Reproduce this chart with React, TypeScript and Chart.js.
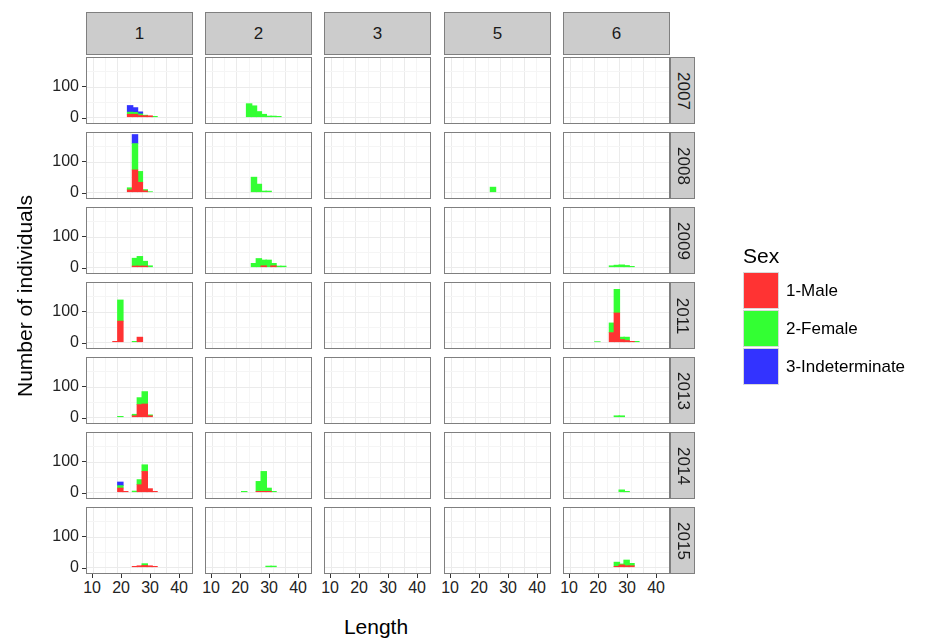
import { useEffect, useRef } from 'react'
import { Chart, registerables } from 'chart.js'

Chart.register(...registerables)

// facet labels
const sites = ['1', '2', '3', '5', '6']
const years = ['2007', '2008', '2009', '2011', '2013', '2014', '2015']

// histogram bin centres (width 2)
const lengthBins = [16.5, 18.5, 20.5, 22.5, 24.5, 26.5, 28.5, 30.5, 32.5, 34.5, 36.5]

// counts per bin, keyed "site-year"
const maleCounts: Record<string, number[]> = {
  '1-2007': [0, 0, 0, 10, 10, 6, 5, 5, 0, 0, 0],
  '1-2008': [0, 0, 0, 8, 74, 33, 5, 0, 0, 0, 0],
  '1-2009': [0, 0, 0, 0, 4, 4, 4, 0, 0, 0, 0],
  '2-2009': [0, 0, 0, 0, 0, 0, 5, 0, 5, 0, 0],
  '1-2011': [3, 70, 0, 0, 0, 17, 0, 0, 0, 0, 0],
  '6-2011': [0, 0, 0, 0, 32, 97, 9, 6, 3, 0, 0],
  '1-2013': [0, 0, 0, 0, 5, 42, 44, 5, 0, 0, 0],
  '1-2014': [0, 14, 3, 0, 0, 25, 69, 12, 3, 0, 0],
  '2-2014': [0, 0, 0, 0, 0, 3, 3, 3, 0, 0, 0],
  '1-2015': [0, 0, 0, 0, 3, 5, 6, 5, 3, 0, 0],
  '6-2015': [0, 0, 0, 0, 0, 3, 8, 5, 5, 0, 0],
}
const femaleCounts: Record<string, number[]> = {
  '1-2007': [0, 0, 0, 7, 6, 5, 2, 0, 3, 0, 0],
  '2-2007': [0, 0, 0, 45, 38, 19, 10, 4, 4, 3, 0],
  '1-2008': [0, 0, 0, 7, 87, 36, 4, 2, 0, 0, 0],
  '2-2008': [0, 0, 0, 0, 50, 27, 4, 4, 0, 0, 0],
  '5-2008': [0, 0, 0, 0, 17, 0, 0, 0, 0, 0, 0],
  '1-2009': [0, 0, 0, 0, 26, 32, 16, 5, 0, 0, 0],
  '2-2009': [0, 0, 0, 0, 13, 29, 19, 24, 8, 4, 4],
  '6-2009': [0, 0, 0, 0, 5, 7, 8, 6, 3, 0, 0],
  '1-2011': [0, 70, 0, 0, 3, 0, 0, 0, 0, 0, 0],
  '6-2011': [0, 2, 0, 0, 32, 78, 8, 11, 0, 3, 0],
  '1-2013': [0, 3, 0, 0, 5, 23, 41, 3, 0, 0, 0],
  '6-2013': [0, 0, 0, 0, 0, 5, 5, 0, 0, 0, 0],
  '1-2014': [0, 8, 0, 0, 4, 17, 22, 0, 0, 0, 0],
  '2-2014': [0, 0, 3, 0, 0, 33, 66, 11, 3, 0, 0],
  '6-2014': [0, 0, 0, 0, 0, 0, 8, 3, 0, 0, 0],
  '1-2015': [0, 0, 0, 0, 0, 0, 6, 0, 0, 0, 0],
  '2-2015': [0, 0, 0, 0, 0, 0, 0, 4, 4, 0, 0],
  '6-2015': [0, 0, 0, 0, 0, 14, 3, 19, 8, 0, 0],
}
const indetCounts: Record<string, number[]> = {
  '1-2007': [0, 0, 0, 22, 16, 7, 0, 0, 0, 0, 0],
  '1-2008': [0, 0, 0, 0, 30, 0, 0, 0, 0, 0, 0],
  '1-2014': [0, 12, 0, 0, 0, 0, 0, 0, 0, 0, 0],
}

const xTicks = [10, 20, 30, 40]
const yTicks = [0, 100]
const sexLabels = ['1-Male', '2-Female', '3-Indeterminate']
const sexColors = ['#ff3333', '#33ff33', '#3333ff']

const X_MIN = 7.9
const X_MAX = 44.8
const Y_MIN = -19
const Y_MAX = 196
const PW = 107
const PH = 67
const colX = [86, 205, 324, 444, 563]
const rowY = (i: number) => 57 + i * 75
const font = 'Arial, "Liberation Sans", sans-serif'

function Panel({ id, left, top }: { id: string; left: number; top: number }) {
  const ref = useRef<HTMLCanvasElement>(null)
  useEffect(() => {
    if (!ref.current) return
    const sources = [maleCounts, femaleCounts, indetCounts]
    const thick = (2 * PW) / (X_MAX - X_MIN)
    const chart = new Chart(ref.current, {
      type: 'bar',
      data: {
        datasets: sources.map((src, k) => ({
          label: sexLabels[k],
          data: lengthBins
            .map((b, i) => ({ x: b, y: src[id] ? src[id][i] : 0 }))
            .filter((p) => p.y > 0),
          backgroundColor: sexColors[k],
          barThickness: thick,
          borderWidth: 0,
        })),
      },
      options: {
        animation: false,
        responsive: false,
        layout: { padding: 0 },
        plugins: { legend: { display: false }, tooltip: { enabled: false } },
        scales: {
          x: {
            type: 'linear',
            stacked: true,
            min: X_MIN,
            max: X_MAX,
            afterBuildTicks: (s: any) => {
              s.ticks = [10, 15, 20, 25, 30, 35, 40].map((v) => ({ value: v }))
            },
            ticks: { display: false },
            border: { display: false },
            grid: {
              drawTicks: false,
              color: (c: any) => (c.tick && c.tick.value % 10 === 0 ? '#ebebeb' : '#f5f5f5'),
            },
          },
          y: {
            stacked: true,
            min: Y_MIN,
            max: Y_MAX,
            afterBuildTicks: (s: any) => {
              s.ticks = [0, 50, 100, 150].map((v) => ({ value: v }))
            },
            ticks: { display: false },
            border: { display: false },
            grid: {
              drawTicks: false,
              color: (c: any) => (c.tick && c.tick.value % 100 === 0 ? '#ebebeb' : '#f5f5f5'),
            },
          },
        },
      },
    })
    return () => chart.destroy()
  }, [id])
  return (
    <div style={{ position: 'absolute', left, top, width: PW, height: PH, border: '1px solid #7f7f7f', boxSizing: 'border-box', overflow: 'hidden' }}>
      <canvas ref={ref} width={PW - 2} height={PH - 2} style={{ display: 'block' }} />
    </div>
  )
}

const yPix = (v: number) => (PH * (Y_MAX - v)) / (Y_MAX - Y_MIN)
const xPix = (v: number) => (PW * (v - X_MIN)) / (X_MAX - X_MIN)

export default function App() {
  const els: any[] = []
  sites.forEach((s, ci) => {
    els.push(
      <div key={'cs' + s} style={{ position: 'absolute', left: colX[ci], top: 12, width: PW, height: 43, background: '#cccccc', border: '1px solid #7f7f7f', boxSizing: 'border-box', display: 'flex', alignItems: 'center', justifyContent: 'center', fontSize: 17, color: '#1a1a1a' }}>{s}</div>
    )
    xTicks.forEach((t) => {
      const x = colX[ci] + xPix(t)
      els.push(<div key={'xt' + s + t} style={{ position: 'absolute', left: x - 0.5, top: rowY(6) + PH, width: 1, height: 4, background: '#333' }} />)
      els.push(<div key={'xl' + s + t} style={{ position: 'absolute', left: x - 20, top: rowY(6) + PH + 5, width: 40, textAlign: 'center', fontSize: 16, color: '#222' }}>{t}</div>)
    })
  })
  years.forEach((y, ri) => {
    const top = rowY(ri)
    sites.forEach((s, ci) => {
      els.push(<Panel key={s + y} id={s + '-' + y} left={colX[ci]} top={top} />)
    })
    els.push(
      <div key={'rs' + y} style={{ position: 'absolute', left: 670, top, width: 25, height: PH, background: '#cccccc', border: '1px solid #7f7f7f', boxSizing: 'border-box', display: 'flex', alignItems: 'center', justifyContent: 'center' }}>
        <span style={{ transform: 'rotate(90deg)', fontSize: 17, color: '#1a1a1a' }}>{y}</span>
      </div>
    )
    yTicks.forEach((t) => {
      const yy = top + yPix(t)
      els.push(<div key={'yt' + y + t} style={{ position: 'absolute', left: 82, top: yy - 0.5, width: 4, height: 1, background: '#333' }} />)
      els.push(<div key={'yl' + y + t} style={{ position: 'absolute', left: 30, top: yy - 10, width: 49, textAlign: 'right', fontSize: 16, color: '#222' }}>{t}</div>)
    })
  })
  return (
    <div style={{ position: 'absolute', left: 0, top: 0, width: 933, height: 642, background: '#fff', fontFamily: font, overflow: 'hidden' }}>
      {els}
      <div style={{ position: 'absolute', left: 25, top: 296, transform: 'translate(-50%,-50%) rotate(-90deg)', whiteSpace: 'nowrap', fontSize: 21, color: '#000' }}>Number of individuals</div>
      <div style={{ position: 'absolute', left: 376, top: 627, transform: 'translate(-50%,-50%)', fontSize: 21, color: '#000' }}>Length</div>
      <div style={{ position: 'absolute', left: 743, top: 244, fontSize: 21, color: '#000' }}>Sex</div>
      {sexLabels.map((l, i) => (
        <div key={l}>
          <div style={{ position: 'absolute', left: 743, top: 272 + i * 38, width: 36, height: 37, background: sexColors[i], border: '1px solid #d9d9d9', boxSizing: 'border-box' }} />
          <div style={{ position: 'absolute', left: 786, top: 281 + i * 38, fontSize: 17, color: '#000' }}>{l}</div>
        </div>
      ))}
    </div>
  )
}
